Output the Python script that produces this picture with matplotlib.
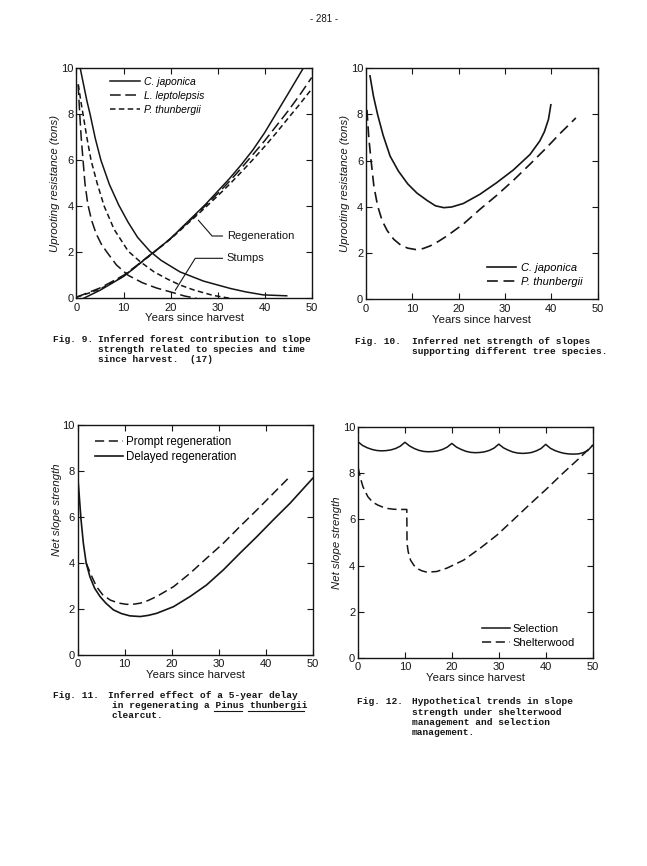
import matplotlib
matplotlib.use("Agg")
from matplotlib import pyplot as plt
from matplotlib.lines import Line2D

# ---- Fig. 9 : forest contribution (decay of stumps, growth of regeneration)
cj_decay_x = [0.8, 1.5, 2.2, 2.9, 4.0, 5.2, 7.0, 9.0, 11.0, 13.0, 15.6, 18.0, 22.0, 27.0, 32.7, 36.0, 39.7, 44.7]
cj_decay_y = [10.0, 9.3, 8.6, 8.0, 6.95, 6.0, 4.95, 4.05, 3.3, 2.65, 2.05, 1.65, 1.15, 0.75, 0.43, 0.28, 0.15, 0.11]
ll_decay_x = [0.35, 0.7, 1.0, 1.4, 1.8, 2.4, 3.2, 4.2, 5.3, 6.5, 8.5, 11.0, 14.0, 17.0, 20.5, 23.0, 25.5]
ll_decay_y = [9.3, 8.0, 7.0, 6.0, 5.0, 4.1, 3.4, 2.8, 2.35, 2.0, 1.45, 1.0, 0.68, 0.45, 0.25, 0.1, 0.0]
pt_decay_x = [0.4, 0.9, 1.4, 2.2, 3.1, 4.4, 5.9, 8.0, 11.0, 13.5, 16.5, 19.5, 22.0, 25.0, 29.0, 32.7]
pt_decay_y = [9.3, 8.6, 8.0, 7.0, 6.0, 5.0, 4.0, 3.0, 2.05, 1.6, 1.15, 0.82, 0.58, 0.36, 0.13, 0.0]

cj_grow_x = [1.5, 3, 5, 7.5, 10, 12.5, 15, 17.5, 20, 22.5, 25, 27.5, 30, 32.5, 35, 37.5, 40, 42.5, 45, 48.2]
cj_grow_y = [0.0, 0.15, 0.35, 0.65, 0.95, 1.35, 1.78, 2.18, 2.6, 3.1, 3.6, 4.1, 4.65, 5.2, 5.8, 6.45, 7.2, 8.05, 8.9, 10.0]
grow_x = [0, 2.5, 5, 7.5, 10, 12.5, 15, 17.5, 20, 22.5, 25, 27.5, 30, 32.5, 35, 37.5, 40, 42.5, 45, 47.5, 50]
ll_grow_y = [0.05, 0.25, 0.45, 0.72, 1.0, 1.38, 1.78, 2.18, 2.6, 3.08, 3.55, 4.05, 4.55, 5.08, 5.65, 6.25, 6.85, 7.5, 8.15, 8.85, 9.6]
pt_grow_y = [0.05, 0.22, 0.4, 0.68, 0.97, 1.36, 1.76, 2.17, 2.58, 3.04, 3.5, 3.97, 4.45, 4.95, 5.48, 6.03, 6.6, 7.2, 7.83, 8.45, 9.1]

# ---- Fig. 10 : net strength
cj_net_x = [0.86, 1.6, 2.5, 3.7, 5.2, 7.0, 9.0, 11.0, 13.2, 15.0, 16.8, 18.5, 21.0, 24.6, 28.2, 31.8, 35.4, 37.5, 38.5, 39.4, 39.9]
cj_net_y = [9.67, 8.8, 8.0, 7.1, 6.2, 5.55, 5.0, 4.6, 4.28, 4.05, 3.97, 4.0, 4.15, 4.55, 5.05, 5.6, 6.27, 6.85, 7.25, 7.8, 8.42]
pt_net_x = [0.2, 0.6, 1.07, 1.7, 2.5, 3.5, 4.6, 6.0, 7.5, 9.0, 10.7, 12.3, 13.9, 15.7, 17.5, 21.0, 24.6, 28.2, 31.8, 35.4, 38.9, 42.0, 45.3]
pt_net_y = [8.2, 7.0, 6.05, 4.9, 4.05, 3.4, 2.97, 2.6, 2.35, 2.22, 2.16, 2.2, 2.32, 2.52, 2.75, 3.26, 3.9, 4.5, 5.15, 5.85, 6.55, 7.2, 7.85]

# ---- Fig. 11 : prompt vs delayed regeneration
delayed_x = [0, 0.3, 0.7, 1.2, 1.8, 2.6, 3.6, 4.75, 6.0, 7.6, 9.3, 11.1, 13.3, 15.0, 16.8, 20.4, 23.9, 27.4, 31.0, 34.5, 38.1, 41.6, 45.2, 50.0]
delayed_y = [7.8, 7.0, 5.9, 4.86, 4.0, 3.4, 2.9, 2.54, 2.25, 1.96, 1.8, 1.7, 1.67, 1.72, 1.81, 2.1, 2.54, 3.04, 3.7, 4.42, 5.14, 5.87, 6.6, 7.68]
prompt_x = [1.8, 2.8, 4.0, 5.3, 6.9, 8.6, 10.4, 12.0, 13.3, 15.0, 16.8, 20.4, 23.9, 27.4, 31.0, 34.5, 38.1, 41.5, 44.8]
prompt_y = [4.0, 3.5, 2.97, 2.62, 2.39, 2.26, 2.2, 2.21, 2.25, 2.37, 2.54, 2.97, 3.55, 4.2, 4.86, 5.58, 6.3, 7.0, 7.68]

# ---- Fig. 12 : selection vs shelterwood
sel_x = list(range(0, 51))
sel_y = [9.35, 9.19, 9.09, 9.02, 8.975, 8.96, 8.97, 9.0, 9.06, 9.16,
         9.33, 9.17, 9.06, 8.98, 8.935, 8.92, 8.93, 8.96, 9.02, 9.12,
         9.28, 9.12, 9.02, 8.94, 8.895, 8.88, 8.89, 8.92, 8.98, 9.08,
         9.25, 9.09, 8.99, 8.91, 8.865, 8.85, 8.86, 8.89, 8.96, 9.06,
         9.24, 9.07, 8.97, 8.9, 8.85, 8.825, 8.82, 8.83, 8.88, 8.98, 9.2]
shelter_x = [0, 0.5, 1.06, 2.1, 3.1, 4.2, 5.3, 6.4, 7.5, 8.5, 10.4, 10.45, 10.7, 11.2, 11.9, 12.6, 13.6, 14.7, 16.8, 19.0, 22.5, 26.0, 29.6, 33.1, 36.6, 40.1, 43.7, 47.2, 50.0]
shelter_y = [8.27, 7.8, 7.41, 6.98, 6.75, 6.62, 6.53, 6.47, 6.44, 6.43, 6.43, 4.96, 4.6, 4.24, 4.02, 3.88, 3.78, 3.72, 3.75, 3.9, 4.24, 4.75, 5.32, 5.98, 6.65, 7.3, 8.0, 8.65, 9.2]

xticks = [0, 10, 20, 30, 40, 50]
yticks = [0, 2, 4, 6, 8, 10]

plt.rcParams['font.family'] = ['Liberation Sans', 'DejaVu Sans']
ink = '#151515'
W, H = 647, 866
long_dash = (0, (7, 3))
short_dash = (0, (3.6, 2.2))


def style_axes(ax, ylabel, ylab_y=0.5):
    ax.set_xlim(0, 50)
    ax.set_ylim(0, 10)
    ax.set_xticks(xticks)
    ax.set_yticks(yticks)
    ax.tick_params(direction='in', top=True, right=True, length=4, width=0.8,
                   labelsize=8, colors=ink)
    ax.tick_params(axis='x', pad=3)
    ax.tick_params(axis='y', pad=2)
    for s in ax.spines.values():
        s.set_linewidth(1.0)
        s.set_color(ink)
    ax.set_xlabel("Years since harvest", fontsize=8.2, color=ink)
    ax.xaxis.label.set_va('center')
    ax.xaxis.set_label_coords(0.5, -0.087)
    ax.set_ylabel(ylabel, fontsize=8.2, style='italic', color=ink)
    ax.yaxis.label.set_va('center')
    ax.yaxis.set_label_coords(-0.09, ylab_y)


def caption(x, y, lines, label):
    fig.text(x / W, 1 - y[0] / H, label, family='Liberation Mono', weight='bold',
             fontsize=6.8, color=ink, va='center')
    for (lx, ly, txt) in lines:
        fig.text(lx / W, 1 - ly / H, txt, family='Liberation Mono', weight='bold',
                 fontsize=6.8, color=ink, va='center')


fig = plt.figure(figsize=(6.47, 8.66), dpi=100)
fig.patch.set_facecolor('white')

# Fig. 9
ax1 = fig.add_axes([0.1182, 0.6555, 0.3635, 0.2656])
ax1.plot(cj_decay_x, cj_decay_y, color=ink, lw=1.1, label='C. japonica')
ax1.plot(ll_decay_x, ll_decay_y, color=ink, lw=1.1, linestyle=long_dash, label='L. leptolepsis')
ax1.plot(pt_decay_x, pt_decay_y, color=ink, lw=1.1, linestyle=short_dash, label='P. thunbergii')
ax1.plot(cj_grow_x, cj_grow_y, color=ink, lw=1.1)
ax1.plot(grow_x, ll_grow_y, color=ink, lw=1.1, linestyle=long_dash)
ax1.plot(grow_x, pt_grow_y, color=ink, lw=1.1, linestyle=short_dash)
ax1.legend(loc='upper left', bbox_to_anchor=(0.142, 0.962), frameon=False,
           prop={'style': 'italic', 'size': 7.5}, handlelength=2.9, handletextpad=0.35,
           labelspacing=0.38, borderpad=0, borderaxespad=0)
ax1.annotate("Regeneration", xy=(25.9, 3.4), xytext=(31.96, 2.71), fontsize=8, color=ink,
             ha='left', va='center',
             arrowprops=dict(arrowstyle='-', color=ink, lw=0.8, shrinkA=1, shrinkB=0,
                             connectionstyle='angle,angleA=180,angleB=131,rad=0'))
ax1.annotate("Stumps", xy=(21.0, 0.35), xytext=(31.96, 1.74), fontsize=8, color=ink,
             ha='left', va='center',
             arrowprops=dict(arrowstyle='-', color=ink, lw=0.8, shrinkA=1, shrinkB=0,
                             connectionstyle='angle,angleA=180,angleB=58,rad=0'))
style_axes(ax1, "Uprooting resistance (tons)")

# Fig. 10
ax2 = fig.add_axes([0.5657, 0.6542, 0.358, 0.267])
ax2.plot(cj_net_x, cj_net_y, color=ink, lw=1.2, label='C. japonica')
ax2.plot(pt_net_x, pt_net_y, color=ink, lw=1.2, linestyle=(0, (6.5, 3.4)), label='P. thunbergii')
ax2.legend(loc='center left', bbox_to_anchor=(0.521, 0.1075), frameon=False,
           prop={'style': 'italic', 'size': 8}, handlelength=2.6, handletextpad=0.5,
           labelspacing=0.35, borderpad=0, borderaxespad=0)
style_axes(ax2, "Uprooting resistance (tons)")

# Fig. 11
ax3 = fig.add_axes([0.1201, 0.2437, 0.3632, 0.2656])
ax3.plot(prompt_x, prompt_y, color=ink, lw=1.1, linestyle=(0, (6, 3)), label='Prompt regeneration')
ax3.plot(delayed_x, delayed_y, color=ink, lw=1.2, label='Delayed regeneration')
ax3.legend(loc='center left', bbox_to_anchor=(0.0736, 0.8935), frameon=False,
           prop={'size': 8.3}, handlelength=2.45, handletextpad=0.25,
           labelspacing=0.25, borderpad=0, borderaxespad=0)
style_axes(ax3, "Net slope strength", ylab_y=0.63)

# Fig. 12
ax4 = fig.add_axes([0.5533, 0.2398, 0.3627, 0.2674])
ax4.plot(sel_x, sel_y, color=ink, lw=1.1, label='Selection')
ax4.plot(shelter_x, shelter_y, color=ink, lw=1.1, linestyle=(0, (6, 3)), label='Shelterwood')
ax4.legend(loc='center left', bbox_to_anchor=(0.527, 0.097), frameon=False,
           prop={'size': 8}, handlelength=2.55, handletextpad=0.25,
           labelspacing=0.3, borderpad=0, borderaxespad=0)
style_axes(ax4, "Net slope strength")

# page number
fig.text(324 / W, 1 - 19 / H, "- 281 -", fontsize=7, color=ink, ha='center', va='center')

# captions
caption(53, [340], [(98, 340, "Inferred forest contribution to slope"),
                    (98, 349.5, "strength related to species and time"),
                    (98, 359, "since harvest.  (17)")], "Fig. 9.")
caption(355, [341], [(411.7, 341, "Inferred net strength of slopes"),
                     (411.7, 352, "supporting different tree species.")], "Fig. 10.")
caption(53, [696], [(108, 696, "Inferred effect of a 5-year delay"),
                    (111.7, 706, "in regenerating a Pinus thunbergii"),
                    (111.7, 716, "clearcut.")], "Fig. 11.")
caption(356.7, [701.7], [(411.7, 701.7, "Hypothetical trends in slope"),
                         (411.7, 712.3, "strength under shelterwood"),
                         (411.7, 722.7, "management and selection"),
                         (411.7, 732.7, "management.")], "Fig. 12.")

# underline Pinus / thunbergii (monospace: 0.6 em per char)
cw = 0.6 * 6.8 * 100 / 72
uy = 1 - 710.5 / H
for start, n in [(18, 5), (24, 10)]:
    x0 = 111.7 + start * cw
    fig.add_artist(Line2D([x0 / W, (x0 + n * cw) / W], [uy, uy], lw=0.8, color=ink))

fig.savefig("out.png", dpi=100, facecolor='white')
